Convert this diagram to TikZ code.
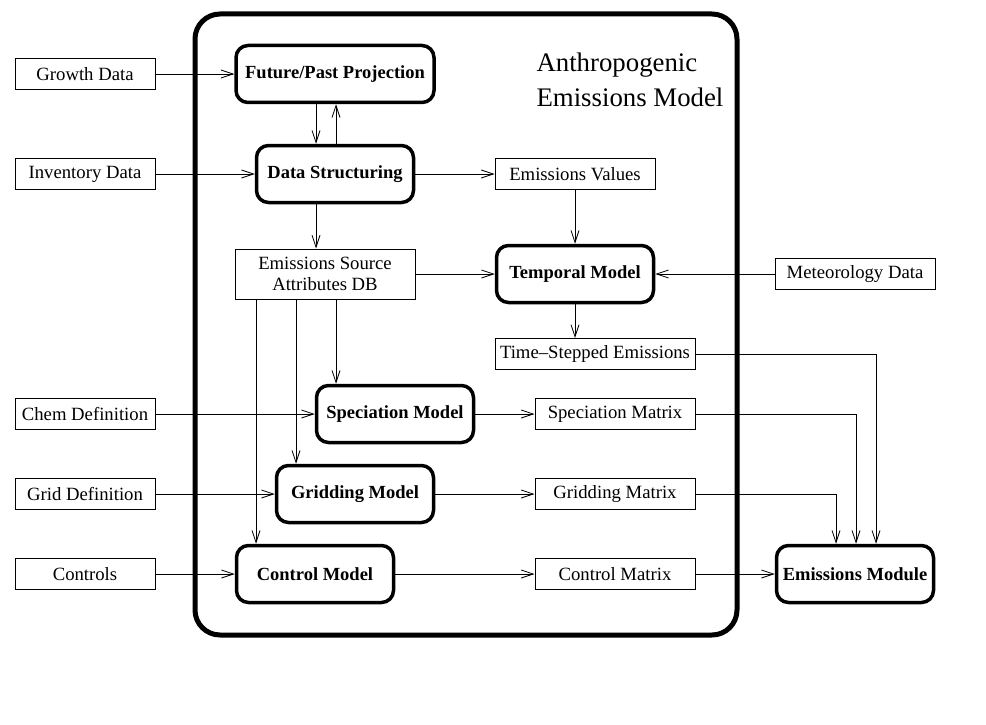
\documentclass[tikz,border=0pt]{standalone}
\usepackage{fontspec}
\setmainfont{Liberation Serif}
\usetikzlibrary{arrows.meta}
\begin{document}
\begin{tikzpicture}[x=1pt,y=-1pt,
  font=\fontsize{18.7}{22}\selectfont,
  data/.style={draw,line width=1pt,inner sep=0pt,minimum height=31pt},
  model/.style={draw,line width=3.5pt,rounded corners=12pt,inner sep=0pt,
    minimum width=157pt,minimum height=57pt,font=\fontsize{18.5}{22}\selectfont\bfseries},
  arr/.style={line width=0.8pt,-{Straight Barb[length=12pt,width=8pt]}}]
\useasboundingbox (0,0) rectangle (986,725);
\draw[line width=5pt,rounded corners=25pt] (195,14) rectangle (737,635);
\node[align=left,anchor=west,font=\fontsize{26.8}{35}\selectfont] (title) at (533,80) {Anthropogenic\\Emissions Model};

\node[data,minimum width=140pt] (growth) at (85,74)  {Growth Data};
\node[data,minimum width=140pt] (inv)    at (85,174) {Inventory Data};
\node[data,minimum width=140pt] (chem)   at (85,414) {Chem Definition};
\node[data,minimum width=140pt] (grid)   at (85,494) {Grid Definition};
\node[data,minimum width=140pt] (ctrl)   at (85,574) {Controls};

\node[model,minimum width=198pt] (fp) at (335,74)  {Future/Past Projection};
\node[model]                     (ds) at (335,174) {Data Structuring};
\node[data,minimum width=180pt,minimum height=50pt,align=center,
      font=\fontsize{18.7}{21}\selectfont] (db) at (325,274) {Emissions Source\\Attributes DB};
\node[model] (spm) at (395,414) {Speciation Model};
\node[model] (grm) at (355,494) {Gridding Model};
\node[model] (ctm) at (315,574) {Control Model};

\node[data,minimum width=160pt] (ev)  at (575,174) {Emissions Values};
\node[model]                    (tm)  at (575,274) {Temporal Model};
\node[data,minimum width=200pt] (tse) at (595,354) {Time{\textendash}Stepped Emissions};
\node[data,minimum width=160pt] (spx) at (615,414) {Speciation Matrix};
\node[data,minimum width=160pt] (grx) at (615,494) {Gridding Matrix};
\node[data,minimum width=160pt] (ctx) at (615,574) {Control Matrix};

\node[data,minimum width=160pt] (met) at (855,274) {Meteorology Data};
\node[model]                    (em)  at (855,574) {Emissions Module};

\draw[arr] (growth) -- (fp);
\draw[arr] (inv) -- (ds);
\draw[arr] (chem) -- (spm);
\draw[arr] (grid) -- (grm);
\draw[arr] (ctrl) -- (ctm);
\draw[arr] ([xshift=-19pt]fp.south) -- ([xshift=-19pt]fp.south |- ds.north);
\draw[arr] ([xshift=1pt]ds.north) -- ([xshift=1pt]ds.north |- fp.south);
\draw[arr] ([xshift=-19pt]ds.south) -- ([xshift=-19pt]ds.south |- db.north);
\draw[arr] (ds) -- (ev);
\draw[arr] (ev) -- (tm);
\draw[arr] (db) -- (tm);
\draw[arr] (met) -- (tm);
\draw[arr] (tm.south) -- (tm.south |- tse.north);
\draw[arr] ([xshift=11pt]db.south) -- ([xshift=11pt]db.south |- spm.north);
\draw[arr] ([xshift=-29pt]db.south) -- ([xshift=-29pt]db.south |- grm.north);
\draw[arr] ([xshift=-69pt]db.south) -- ([xshift=-69pt]db.south |- ctm.north);
\draw[arr] (spm) -- (spx);
\draw[arr] (grm) -- (grx);
\draw[arr] (ctm) -- (ctx);
\draw[arr] (ctx) -- (em);
\draw[arr] (tse.east) -| ([xshift=21pt]em.north);
\draw[arr] (spx.east) -| ([xshift=1pt]em.north);
\draw[arr] (grx.east) -| ([xshift=-19pt]em.north);
\end{tikzpicture}
\end{document}
